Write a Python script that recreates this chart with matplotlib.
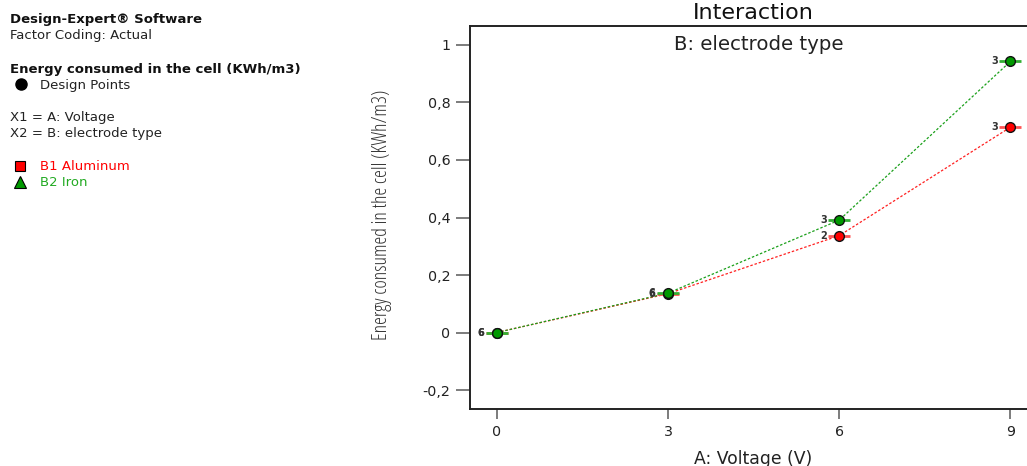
import matplotlib
matplotlib.use("Agg")
import matplotlib.pyplot as plt
from matplotlib.ticker import FuncFormatter

plt.rcParams['font.family'] = ['DejaVu Sans']

voltage = [0, 3, 6, 9]
aluminum = [0.0, 0.135, 0.337, 0.714]
iron = [0.0, 0.137, 0.391, 0.943]
alu_counts = ["6", "6", "2", "3"]
iron_counts = ["6", "6", "3", "3"]
yticks = [-0.2, 0, 0.2, 0.4, 0.6, 0.8, 1]

RED = "#ff2020"
GREEN = "#1aa01a"
MRED = "#ff0000"
MGREEN = "#009900"

W, H = 1027, 466
fig = plt.figure(figsize=(W / 100, H / 100), dpi=100)

def fx(px):
    return px / W

def fy(py):
    return 1 - py / H

ax = fig.add_axes([fx(470), fy(409), fx(569), (409 - 26) / H])
ax.set_xlim(-0.47, 9.5)
ax.set_ylim(-0.266, 1.066)

# lines
ax.plot(voltage, aluminum, color=RED, lw=0.9, ls=(0, (2, 1.5)), zorder=2)
ax.plot(voltage, iron, color=GREEN, lw=0.9, ls=(0, (2, 1.5)), zorder=2)

for vals, lc, mc, counts in [(aluminum, "#ff5555", MRED, alu_counts),
                             (iron, "#33b033", MGREEN, iron_counts)]:
    ax.plot(voltage, vals, ls="none", marker="_", ms=16, mew=2.0, color=lc, zorder=3)
    ax.plot(voltage, vals, ls="none", marker="o", ms=7, mfc=mc, mec="#111111", mew=1.0, zorder=5)
    for x, y, c in zip(voltage, vals, counts):
        ax.annotate(c, (x, y), xytext=(-9, 0), textcoords="offset points",
                    ha="right", va="center", fontsize=7, fontweight="bold",
                    color="#333333", zorder=6)

ax.set_xticks(voltage)
ax.set_yticks(yticks)
ax.yaxis.set_major_formatter(FuncFormatter(lambda v, p: ("%g" % round(v, 2)).replace(".", ",")))
ax.tick_params(axis="both", direction="out", labelsize=10.3, colors="#666666",
               labelcolor="#222222", width=1.2)
ax.tick_params(axis="y", length=10, pad=4)
ax.tick_params(axis="x", length=7.5, pad=4)
for s in ["left", "bottom", "top"]:
    ax.spines[s].set_linewidth(1.4)
    ax.spines[s].set_color("#222222")
ax.spines["right"].set_visible(False)

fig.text(fx(753), fy(13), "Interaction", ha="center", va="center", fontsize=16, color="#111111")
fig.text(fx(759), fy(44), "B: electrode type", ha="center", va="center", fontsize=14.2, color="#222222")
fig.text(fx(753), fy(459), "A: Voltage (V)", ha="center", va="center", fontsize=12.4, color="#222222")
fig.text(fx(382), fy(215), "Energy consumed in the cell (KWh/m3)", rotation=90,
         ha="center", va="center", fontsize=14.3, color="#333333",
         family=["Open Sans"], fontstretch="condensed")

# left side info
fs = 9.5
fig.text(fx(10), fy(20), "Design-Expert\u00ae Software", ha="left", va="center",
         fontsize=fs, fontweight="bold", color="#111111")
fig.text(fx(10), fy(36), "Factor Coding: Actual", ha="left", va="center", fontsize=fs, color="#222222")
fig.text(fx(10), fy(70), "Energy consumed in the cell (KWh/m3)", ha="left", va="center",
         fontsize=fs, fontweight="bold", color="#111111")
fig.text(fx(40), fy(85), "Design Points", ha="left", va="center", fontsize=fs, color="#222222")
fig.text(fx(10), fy(118), "X1 = A: Voltage", ha="left", va="center", fontsize=fs, color="#222222")
fig.text(fx(10), fy(133), "X2 = B: electrode type", ha="left", va="center", fontsize=fs, color="#222222")
fig.text(fx(40), fy(167), "B1 Aluminum", ha="left", va="center", fontsize=fs, color=MRED)
fig.text(fx(40), fy(183), "B2 Iron", ha="left", va="center", fontsize=fs, color="#22aa22")

lax = fig.add_axes([0, 0, 1, 1], facecolor="none")
lax.set_xlim(0, W)
lax.set_ylim(H, 0)
lax.axis("off")
lax.plot([21], [84], marker="o", ms=8, color="black", mec="black")
lax.plot([20], [166], marker="s", ms=7.5, mfc=MRED, mec="black", mew=0.8)
lax.plot([20], [182], marker="^", ms=8, mfc=MGREEN, mec="black", mew=0.8)

fig.savefig("out.png", dpi=100)
